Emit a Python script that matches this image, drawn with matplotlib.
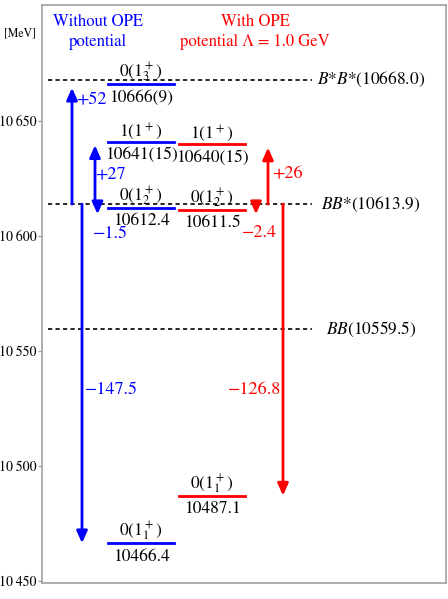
import matplotlib
matplotlib.use("Agg")
import matplotlib.pyplot as plt
from matplotlib.ticker import FuncFormatter

plt.rcParams['font.family'] = ['STIXGeneral', 'DejaVu Serif']
plt.rcParams['mathtext.fontset'] = 'stix'

# thresholds
thr_names = [r'$B$*$B$*', r'$BB$*', r'$BB$']
thr_mass = [10668.0, 10613.9, 10559.5]

# levels without OPE potential (blue)
blue_state = [r'$0(1^+_1)$', r'$0(1^+_2)$', r'$1(1^+)$', r'$0(1^+_3)$']
blue_mass = [10466.4, 10612.4, 10641.0, 10666.0]
blue_text = ['10466.4', '10612.4', '10641(15)', '10666(9)']
blue_diff = ['\u2212147.5', '\u22121.5', '+27', '+52']

# levels with OPE potential (red)
red_state = [r'$0(1^+_1)$', r'$0(1^+_2)$', r'$1(1^+)$']
red_mass = [10487.1, 10611.5, 10640.0]
red_text = ['10487.1', '10611.5', '10640(15)']
red_diff = ['\u2212126.8', '\u22122.4', '+26']

BLUE = '#0000ff'
RED = '#ff0000'

fig = plt.figure(figsize=(4.48, 5.99), dpi=100)
ax = fig.add_axes([42 / 448, 16 / 599, 404 / 448, 578 / 599])
ax.set_xlim(42, 446)
ax.set_ylim(10449.1, 10700.5)

# spines / ticks
for s in ax.spines.values():
    s.set_color('#a0a0a0')
    s.set_linewidth(1.2)
ax.set_xticks([])
ax.set_yticks([10450, 10500, 10550, 10600, 10650])
ax.yaxis.set_major_formatter(FuncFormatter(lambda v, p: '%d\u2009%03d' % (v // 1000, v % 1000)))
ax.tick_params(axis='y', length=3, width=1, color='#a0a0a0', labelsize=10, pad=1)

# threshold lines
for name, m in zip(thr_names, thr_mass):
    ax.plot([48, 312], [m, m], color='black', lw=1.2, ls=(0, (2.5, 2)))
    ax.text(371, m, name + '(%.1f)' % m, ha='center', va='center', fontsize=12.5)

bb_star = thr_mass[1]


def draw_levels(xc, masses, states, texts, color):
    for m, st, tx in zip(masses, states, texts):
        ax.plot([xc - 33, xc + 33], [m, m], color=color, lw=2)
        ax.annotate(st, (xc, m), xytext=(0, 0), textcoords='offset points',
                    ha='center', va='bottom', fontsize=12.5)
        ax.annotate(tx, (xc, m), xytext=(0, -4), textcoords='offset points',
                    ha='center', va='top', fontsize=12.5)


draw_levels(141, blue_mass, blue_state, blue_text, BLUE)
draw_levels(212, red_mass, red_state, red_text, RED)


def arrow(x, m, color):
    end = m
    if abs(m - bb_star) < 4.5:
        end = bb_star - 4.4
    elif m > bb_star:
        end = m - 1.5
    ax.annotate('', xy=(x, end), xytext=(x, bb_star),
                arrowprops=dict(arrowstyle='-|>,head_length=0.45,head_width=0.2',
                                mutation_scale=16, color=color, lw=2,
                                shrinkA=0, shrinkB=0))


# arrow x positions and label placement (layout)
blue_ax = [82, 97.5, 95, 72]
blue_lab = [(85, 10533, 'left'), (93, 10600.9, 'left'), (95, 10627, 'left'), (76, 10659, 'left')]
red_ax = [283, 256, 268]
red_lab = [(281, 10533, 'right'), (242, 10601.3, 'left'), (272, 10627, 'left')]

for x, m, d, (lx, ly, ha) in zip(blue_ax, blue_mass, blue_diff, blue_lab):
    arrow(x, m, BLUE)
    ax.text(lx, ly, d, color=BLUE, fontsize=13, ha=ha, va='center')
for x, m, d, (lx, ly, ha) in zip(red_ax, red_mass, red_diff, red_lab):
    arrow(x, m, RED)
    ax.text(lx, ly, d, color=RED, fontsize=13, ha=ha, va='center')

# headers
fig.text(98 / 448, 1 - 32 / 599, 'Without OPE\npotential', color=BLUE, fontsize=12,
         ha='center', va='center', linespacing=1.25)
fig.text(255 / 448, 1 - 32 / 599, 'With OPE\npotential \u039b = 1.0 GeV', color=RED,
         fontsize=12, ha='center', va='center', linespacing=1.25)
fig.text(20 / 448, 1 - 33 / 599, '[MeV]', fontsize=8.5, ha='center', va='center')

fig.savefig('out.png', dpi=100)
